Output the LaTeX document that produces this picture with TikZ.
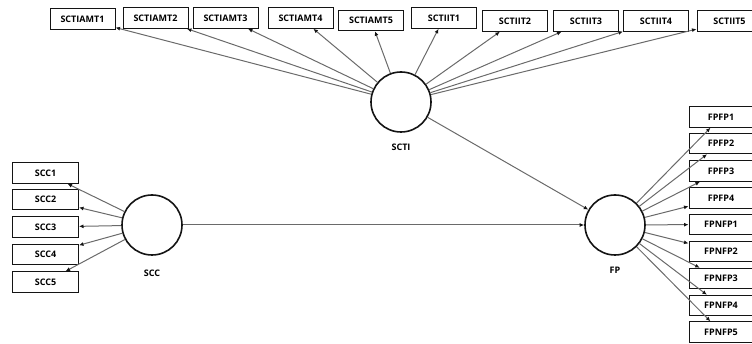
\documentclass[tikz,border=0pt]{standalone}
\usepackage{fontspec}
\setmainfont{Open Sans}
\usepackage{xcolor}
\definecolor{edge}{HTML}{6A6A6A}
\definecolor{ink}{HTML}{141414}
\usetikzlibrary{arrows.meta,positioning}
\tikzset{
  >={Latex[length=4.5pt,width=4pt,color=ink]},
  ind/.style={draw=ink,line width=1pt,minimum width=65pt,minimum height=20.5pt,inner sep=0pt,font=\fontsize{9}{10}\selectfont\bfseries},
  lv/.style={circle,draw=ink,line width=1.6pt,minimum size=60pt,inner sep=0pt},
  lab/.style={font=\fontsize{9}{10}\selectfont\bfseries},
  arr/.style={->,draw=edge,line width=1pt},
}

\begin{document}
\begin{tikzpicture}[x=1pt,y=-1pt]
\clip (0,0) rectangle (752,344);

% latent variables
\node[lv] (scti) at (401,102) {};
\node[lv] (scc) at (152,225) {};
\node[lv] (fp) at (615,225) {};
\node[lab] (sctilab) at (401,147) {SCTI};
\node[lab] (scclab) at (152,273) {SCC};
\node[lab] (fplab) at (615,270) {FP};

% indicators
\foreach \nm/\x/\y in {SCTIAMT1/82.5/19, SCTIAMT2/155.5/18, SCTIAMT3/225.5/18, SCTIAMT4/300.5/18, SCTIAMT5/371/20.5,
    SCTIIT1/444/18, SCTIIT2/515/21, SCTIIT3/586/21, SCTIIT4/656/21, SCTIIT5/729.5/21}
  \node[ind] (\nm) at (\x,\y) {\nm};
\foreach \nm/\y in {SCC1/173, SCC2/199.5, SCC3/227, SCC4/254.5, SCC5/282}
  \node[ind,minimum width=66pt] (\nm) at (45.5,\y) {\nm};
\foreach \nm/\y in {FPFP1/117, FPFP2/143.5, FPFP3/171, FPFP4/198, FPNFP1/224.5,
    FPNFP2/251.5, FPNFP3/278.5, FPNFP4/305.5, FPNFP5/332}
  \node[ind,minimum width=64pt] (\nm) at (721,\y) {\nm};

% outer loadings
\foreach \nm in {SCTIAMT1,SCTIAMT2,SCTIAMT3,SCTIAMT4,SCTIAMT5,SCTIIT1,SCTIIT2,SCTIIT3,SCTIIT4,SCTIIT5}
  \draw[arr] (scti) -- (\nm);
\foreach \nm in {SCC1,SCC2,SCC3,SCC4,SCC5}
  \draw[arr] (scc) -- (\nm);
\foreach \nm in {FPFP1,FPFP2,FPFP3,FPFP4,FPNFP1,FPNFP2,FPNFP3,FPNFP4,FPNFP5}
  \draw[arr] (fp) -- (\nm);

% structural paths
\draw[arr] (scti) -- (fp);
\draw[arr] (scc) -- (fp);
\end{tikzpicture}
\end{document}
